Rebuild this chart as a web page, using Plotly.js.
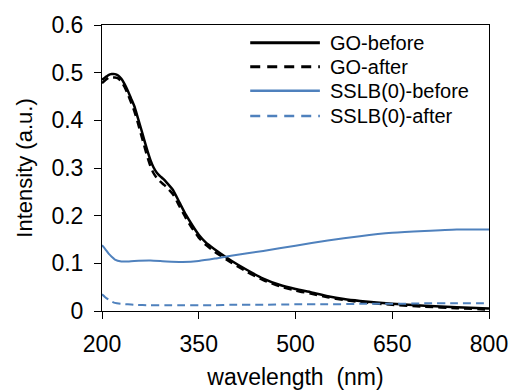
<!DOCTYPE html>
<html>
<head>
<meta charset="utf-8">
<script src="https://cdn.plot.ly/plotly-3.0.1.min.js"></script>
<style>html,body{margin:0;padding:0;background:#fff;}#chart{width:512px;height:390px;}</style>
</head>
<body>
<div id="chart"></div>
<script>
// wavelength (nm)
const goWl = [200,205,210,215,220,225,230,235,240,245,250,255,260,265,270,275,280,285,290,295,300,310,320,330,340,350,360,375,400,425,450,475,500,525,550,575,600,650,700,750,800];
const goBefore = [0.485,0.490,0.495,0.497,0.497,0.494,0.487,0.476,0.462,0.446,0.430,0.408,0.385,0.361,0.338,0.317,0.301,0.290,0.283,0.277,0.270,0.254,0.228,0.202,0.180,0.160,0.145,0.129,0.106,0.086,0.068,0.055,0.046,0.039,0.031,0.025,0.021,0.015,0.011,0.008,0.005];
const goAfter = [0.478,0.484,0.489,0.490,0.490,0.488,0.481,0.470,0.455,0.438,0.420,0.398,0.373,0.349,0.325,0.304,0.289,0.279,0.272,0.266,0.260,0.245,0.220,0.195,0.173,0.154,0.140,0.124,0.102,0.082,0.065,0.052,0.043,0.036,0.029,0.023,0.019,0.013,0.009,0.006,0.003];
const sslbWl = [200,205,210,215,220,230,240,250,275,300,325,350,375,400,450,500,550,600,650,700,750,800];
const sslbBefore = [0.138,0.130,0.121,0.114,0.108,0.104,0.104,0.105,0.106,0.104,0.103,0.105,0.110,0.116,0.126,0.137,0.148,0.157,0.164,0.168,0.171,0.171];
const sslbAfter = [0.035,0.029,0.024,0.020,0.017,0.015,0.014,0.013,0.012,0.012,0.012,0.012,0.012,0.013,0.013,0.014,0.014,0.015,0.015,0.016,0.016,0.016];
const seriesNames = ['GO-before','GO-after','SSLB(0)-before','SSLB(0)-after'];
const xTicks = [200,350,500,650,800];
const yTicks = [0,0.1,0.2,0.3,0.4,0.5,0.6];
const yTickText = ['0','0.1','0.2','0.3','0.4','0.5','0.6'];

const black = '#000000', blue = 'rgb(79,129,189)';
const styles = [
  {color: black, width: 2.5, dash: 'solid'},
  {color: black, width: 2.5, dash: '8px,5px'},
  {color: blue, width: 2, dash: 'solid'},
  {color: blue, width: 2, dash: '8px,5px'}
];
const xs = [goWl, goWl, sslbWl, sslbWl];
const ys = [goBefore, goAfter, sslbBefore, sslbAfter];
const traces = seriesNames.map((n,i)=>({
  x: xs[i], y: ys[i], name: n, type: 'scatter', mode: 'lines',
  line: {color: styles[i].color, width: styles[i].width, dash: styles[i].dash, shape: 'spline', smoothing: 0.6},
  showlegend: false
}));

// custom legend (inside the plot, top right)
const legY = [0.938, 0.854, 0.770, 0.682];
const shapes = [], annotations = [];
seriesNames.forEach((n,i)=>{
  shapes.push({type:'line', xref:'paper', yref:'paper', x0:0.383, x1:0.563, y0:legY[i], y1:legY[i],
    line:{color: styles[i].color, width: styles[i].width + 0.5, dash: i % 2 ? '10px,7px' : 'solid'}});
  annotations.push({xref:'paper', yref:'paper', x:0.584, y:legY[i], xanchor:'left', yanchor:'middle',
    text: n, showarrow:false, font:{size:20, color:'#000'}});
});

const fontFam = 'Liberation Sans, Arial, sans-serif';
const layout = {
  width: 512, height: 390,
  margin: {l: 102, r: 23, t: 25, b: 79, pad: 0},
  paper_bgcolor: '#fff', plot_bgcolor: '#fff',
  font: {family: fontFam, color: '#000', size: 22},
  showlegend: false,
  xaxis: {
    range: [200, 800], tickvals: xTicks, ticktext: xTicks.map(String),
    ticks: 'outside', ticklen: 7, tickwidth: 1, tickcolor: '#000',
    showline: true, linecolor: '#000', linewidth: 1, mirror: true,
    showgrid: false, zeroline: false, ticklabelstandoff: 5,
    tickfont: {size: 23},
    title: {text: 'wavelength  (nm)', font: {size: 23}, standoff: 13}
  },
  yaxis: {
    range: [0, 0.6], tickvals: yTicks, ticktext: yTickText,
    ticks: 'outside', ticklen: 7, tickwidth: 1, tickcolor: '#000',
    showline: true, linecolor: '#000', linewidth: 1, mirror: true,
    showgrid: false, zeroline: false, ticklabelstandoff: 6,
    tickfont: {size: 23},
    title: {text: 'Intensity (a.u.)', font: {size: 22}, standoff: 12}
  },
  shapes: shapes, annotations: annotations
};
Plotly.newPlot('chart', traces, layout, {staticPlot: true, displayModeBar: false});
</script>
</body>
</html>
